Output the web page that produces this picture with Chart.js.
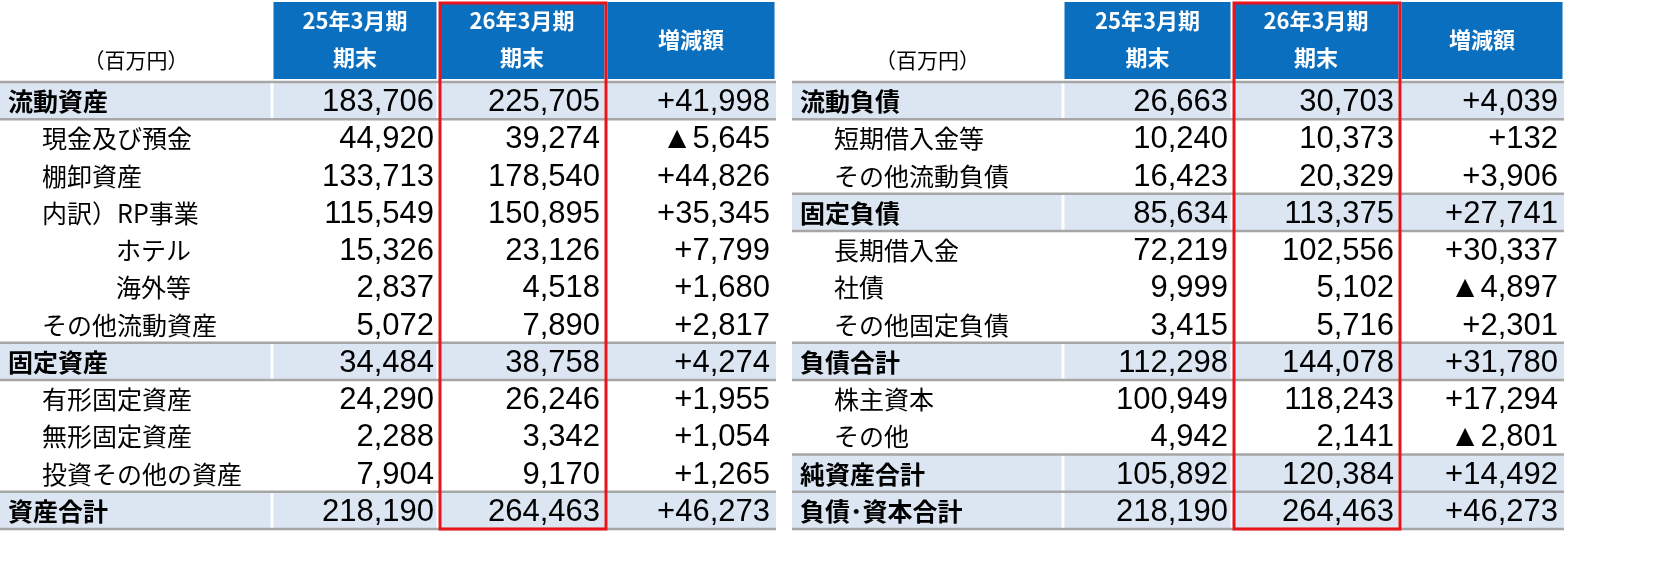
<!DOCTYPE html>
<html><head><meta charset="utf-8">
<script src="https://cdn.jsdelivr.net/npm/chart.js@4"></script>
<style>body{margin:0;background:#fff}#wrap{width:1664px;height:562px}</style>
</head><body><div id="wrap"><canvas id="c"></canvas></div>
<script>
const headers = ['25年3月期|期末', '26年3月期|期末', '増減額'];
const unitLabel = '（百万円）';

const leftLabels = ['流動資産','現金及び預金','棚卸資産','内訳）RP事業','ホテル','海外等','その他流動資産','固定資産','有形固定資産','無形固定資産','投資その他の資産','資産合計'];
const leftLevel = [0,1,1,1,2,2,1,0,1,1,1,0];
const leftPrev = [183706,44920,133713,115549,15326,2837,5072,34484,24290,2288,7904,218190];
const leftCurr = [225705,39274,178540,150895,23126,4518,7890,38758,26246,3342,9170,264463];
const leftDiff = [41998,-5645,44826,35345,7799,1680,2817,4274,1955,1054,1265,46273];

const rightLabels = ['流動負債','短期借入金等','その他流動負債','固定負債','長期借入金','社債','その他固定負債','負債合計','株主資本','その他','純資産合計','負債･資本合計'];
const rightLevel = [0,1,1,0,1,1,1,0,1,1,0,0];
const rightPrev = [26663,10240,16423,85634,72219,9999,3415,112298,100949,4942,105892,218190];
const rightCurr = [30703,10373,20329,113375,102556,5102,5716,144078,118243,2141,120384,264463];
const rightDiff = [4039,132,3906,27741,30337,-4897,2301,31780,17294,-2801,14492,46273];

// layout (column edges on the x scale)
const leftEdges = [0,272,438,606,776];
const rightEdges = [792,1063,1232,1400,1564];
const BLUE = '#0B6FC0', SHADE = '#DCE6F2', LINE = '#A6A6A6', RED = '#E8141B';
const JP = '"Noto Sans CJK JP", sans-serif';
const NUM = '"Liberation Sans", Arial, sans-serif';

const fmt = v => v.toLocaleString('en-US');
const fmtDiff = v => (v < 0 ? '▲' : '+') + fmt(Math.abs(v));

function drawTable(chart, edges, labels, level, prev, curr, diff) {
  const ctx = chart.ctx, x = chart.scales.x, y = chart.scales.y;
  const px = edges.map(e => x.getPixelForValue(e));
  const band = y.getPixelForValue(1) - y.getPixelForValue(0);
  const top = y.getPixelForValue(0) - band / 2;
  const bottom = y.getPixelForValue(labels.length - 1) + band / 2;
  ctx.save();
  // header
  for (let c = 0; c < 3; c++) {
    const l = px[c + 1] + 1.5, r = px[c + 2] - 1.5;
    ctx.fillStyle = BLUE;
    ctx.fillRect(l, 2, r - l, top - 5);
    ctx.fillStyle = '#fff';
    ctx.font = 'bold 22px ' + JP;
    ctx.textAlign = 'center'; ctx.textBaseline = 'middle';
    const parts = headers[c].split('|');
    const cx = (l + r) / 2;
    if (parts.length === 2) { ctx.fillText(parts[0], cx, 21); ctx.fillText(parts[1], cx, 58); }
    else ctx.fillText(parts[0], cx, 40);
  }
  ctx.fillStyle = '#000'; ctx.font = '21px ' + JP;
  ctx.fillText(unitLabel, (px[0] + px[1]) / 2, 60);
  // rows
  labels.forEach((lab, i) => {
    const cy = y.getPixelForValue(i);
    const bold = level[i] === 0;
    if (bold) {
      for (let c = 0; c < 4; c++) {
        const l = px[c] + (c ? 1.5 : 0), r = px[c + 1] - (c < 3 ? 1.5 : 0);
        ctx.fillStyle = SHADE;
        ctx.fillRect(l, cy - band / 2, r - l, band);
      }
    }
    ctx.fillStyle = '#000'; ctx.textBaseline = 'middle';
    ctx.textAlign = 'left';
    ctx.font = (bold ? 'bold ' : '') + '25px ' + JP;
    ctx.fillText(lab, px[0] + [8, 42, 116][level[i]], cy + 1);
    ctx.textAlign = 'right';
    ctx.font = '31px ' + NUM;
    ctx.fillText(fmt(prev[i]), px[2] - 4, cy + 2);
    ctx.fillText(fmt(curr[i]), px[3] - 6, cy + 2);
    ctx.fillText(fmtDiff(diff[i]), px[4] - 6, cy + 2);
  });
  // separator lines
  ctx.strokeStyle = LINE; ctx.lineWidth = 2.5;
  const hl = [0];
  labels.forEach((_, i) => { if (level[i] === 0) { hl.push(i); hl.push(i + 1); } });
  new Set(hl).forEach(i => {
    const yy = i >= labels.length ? bottom : y.getPixelForValue(i) - band / 2;
    ctx.beginPath(); ctx.moveTo(px[0], yy); ctx.lineTo(px[4], yy); ctx.stroke();
  });
  // highlight current period column
  ctx.strokeStyle = RED; ctx.lineWidth = 3;
  ctx.strokeRect(px[2] + 2, 3, px[3] - px[2] - 2, bottom - 3);
  ctx.restore();
}

const tablePlugin = {
  id: 'tables',
  afterDraw(chart) {
    drawTable(chart, leftEdges, leftLabels, leftLevel, leftPrev, leftCurr, leftDiff);
    drawTable(chart, rightEdges, rightLabels, rightLevel, rightPrev, rightCurr, rightDiff);
  }
};

new Chart(document.getElementById('c'), {
  type: 'bar',
  data: { labels: leftLabels, datasets: [{ data: [] }] },
  options: {
    indexAxis: 'y',
    responsive: true, maintainAspectRatio: false, animation: false,
    layout: { padding: { top: 82, bottom: 33, left: 0, right: 0 } },
    plugins: { legend: { display: false }, tooltip: { enabled: false } },
    scales: {
      x: { type: 'linear', min: 0, max: 1664, display: false },
      y: { display: false }
    }
  },
  plugins: [tablePlugin]
});
</script></body></html>
